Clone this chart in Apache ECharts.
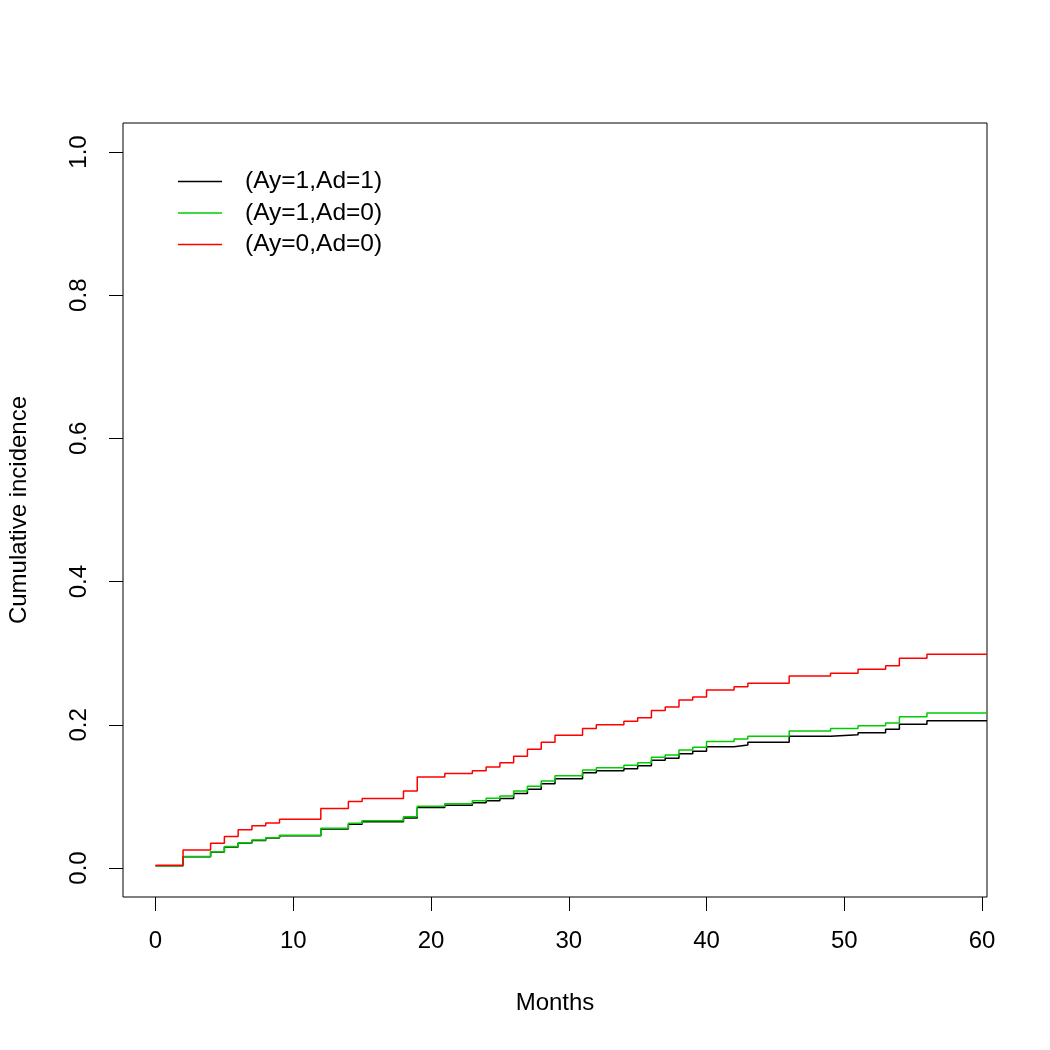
<!DOCTYPE html>
<html lang="en">

<head>
  <meta charset="UTF-8">
  <title>Cumulative incidence</title>
  <script src="https://cdn.jsdelivr.net/npm/echarts@6/dist/echarts.min.js"></script>
</head>

<body style="margin:0">
  <div id="main" style="width: 1050px; height: 1050px"></div>

  <script>
    // event times (months); curves run on to the right edge of the frame
    let months = [0, 2, 4, 5, 6, 7, 8, 9, 12, 14, 15, 18, 19, 21, 23, 24, 25, 26, 27, 28, 29,
      31, 32, 34, 35, 36, 37, 38, 39, 40, 42, 43, 46, 49, 51, 53, 54, 56, 60.36]
    let ay1ad1 = [0.0033, 0.0158, 0.0225, 0.0295, 0.035, 0.0385, 0.0418, 0.045, 0.0545, 0.061, 0.0645,
      0.070, 0.0845, 0.0875, 0.091, 0.094, 0.097, 0.104, 0.110, 0.1175, 0.1248, 0.1331, 0.1359,
      0.1387, 0.1429, 0.1504, 0.1532, 0.1597, 0.1629, 0.1695, 0.1718, 0.1756, 0.1839, 0.1862,
      0.189, 0.1937, 0.2007, 0.2057, 0.2057]
    let ay1ad0 = [0.0033, 0.016, 0.0228, 0.030, 0.0354, 0.039, 0.0424, 0.0456, 0.0554, 0.0624, 0.0661,
      0.0717, 0.0864, 0.0898, 0.094, 0.0973, 0.1006, 0.1075, 0.1141, 0.1215, 0.1287, 0.1369, 0.1401,
      0.1434, 0.1471, 0.1546, 0.1578, 0.1648, 0.1685, 0.1767, 0.1802, 0.1839, 0.1913, 0.1948,
      0.1988, 0.2025, 0.2113, 0.2165, 0.2165]
    let ay0ad0 = [0.004, 0.025, 0.0345, 0.044, 0.0535, 0.059, 0.063, 0.068, 0.083, 0.093, 0.097,
      0.1075, 0.127, 0.132, 0.136, 0.141, 0.147, 0.156, 0.166, 0.1755, 0.1855, 0.195, 0.200,
      0.205, 0.210, 0.220, 0.225, 0.2345, 0.239, 0.2486, 0.253, 0.258, 0.268, 0.272,
      0.2775, 0.2826, 0.293, 0.2985, 0.2985]
    let names = ['(Ay=1,Ad=1)', '(Ay=1,Ad=0)', '(Ay=0,Ad=0)']
    let colors = ['#000000', '#00cd00', '#ff0000']
    let xTicks = [0, 10, 20, 30, 40, 50, 60]
    let yTicks = [0, 0.2, 0.4, 0.6, 0.8, 1.0]

    let font = 'Liberation Sans, Arial, sans-serif'
    let pair = vals => months.map((m, i) => [m, vals[i]])

    let chart = echarts.init(document.getElementById('main'))
    let option = {
      animation: false,
      grid: {
        left: 123, top: 123, width: 864, height: 774,
        outerBoundsMode: 'none',
        show: true, borderColor: '#000', borderWidth: 1
      },
      legend: {
        orient: 'vertical',
        left: 178, top: 169, padding: 0,
        icon: 'rect', itemWidth: 44, itemHeight: 1.5,
        itemGap: 6.5,
        textStyle: { fontFamily: font, fontSize: 24.5, lineHeight: 24, color: '#000', padding: [0, 0, 0, 18] },
        data: names
      },
      xAxis: {
        type: 'value',
        min: -2.36, max: 60.36,
        name: 'Months', nameLocation: 'middle', nameGap: 94,
        nameTextStyle: { fontFamily: font, fontSize: 24, color: '#000' },
        axisLine: { show: false, onZero: false },
        axisTick: { show: true, length: 14, customValues: xTicks, lineStyle: { color: '#000' } },
        axisLabel: { customValues: xTicks, margin: 32, fontFamily: font, fontSize: 24, color: '#000' },
        splitLine: { show: false }
      },
      yAxis: {
        type: 'value',
        min: -0.0405, max: 1.0405,
        name: 'Cumulative incidence', nameLocation: 'middle', nameGap: 92,
        nameTextStyle: { fontFamily: font, fontSize: 24, color: '#000' },
        axisLine: { show: false, onZero: false },
        axisTick: { show: true, length: 14, customValues: yTicks, lineStyle: { color: '#000' } },
        axisLabel: {
          customValues: yTicks, rotate: 90, margin: 32,
          fontFamily: font, fontSize: 24, color: '#000',
          formatter: v => v.toFixed(1)
        },
        splitLine: { show: false }
      },
      series: [ay1ad1, ay1ad0, ay0ad0].map((vals, i) => ({
        type: 'line',
        name: names[i],
        step: 'end',
        symbol: 'none',
        data: pair(vals),
        lineStyle: { color: colors[i], width: 1.5 },
        itemStyle: { color: colors[i] }
      }))
    }
    chart.setOption(option)
  </script>
</body>

</html>
